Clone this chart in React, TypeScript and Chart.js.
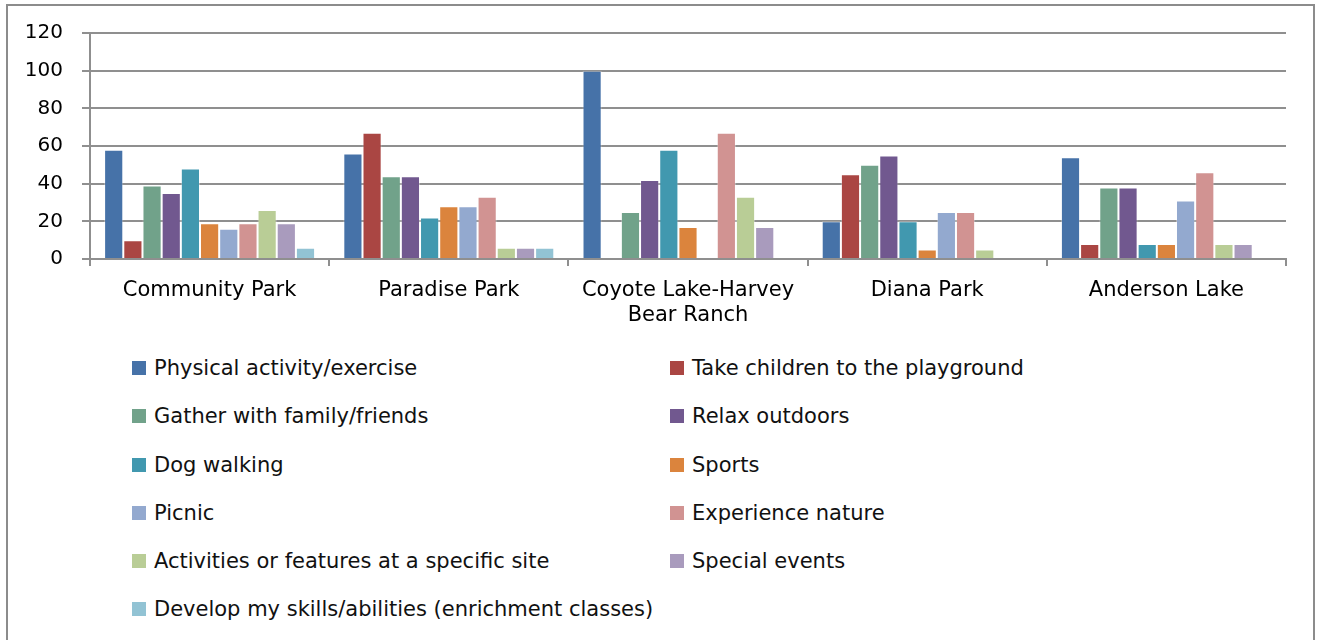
import React, { useEffect, useRef } from 'react';
import { Chart, registerables } from 'chart.js';

Chart.register(...registerables);

const categories: (string | string[])[] = [
  'Community Park',
  'Paradise Park',
  ['Coyote Lake-Harvey', 'Bear Ranch'],
  'Diana Park',
  'Anderson Lake',
];

const seriesNames = [
  'Physical activity/exercise',
  'Take children to the playground',
  'Gather with family/friends',
  'Relax outdoors',
  'Dog walking',
  'Sports',
  'Picnic',
  'Experience nature',
  'Activities or features at a specific site',
  'Special events',
  'Develop my skills/abilities (enrichment classes)',
];

const seriesColors = [
  '#4672A8',
  '#AA4643',
  '#71A28A',
  '#71588F',
  '#4198AF',
  '#DB843D',
  '#93A9CF',
  '#D19392',
  '#B9CD96',
  '#A99BBD',
  '#92C3D4',
];

const physicalActivity = [58, 56, 100, 20, 54];
const takeChildren = [10, 67, 0, 45, 8];
const gatherFamily = [39, 44, 25, 50, 38];
const relaxOutdoors = [35, 44, 42, 55, 38];
const dogWalking = [48, 22, 58, 20, 8];
const sports = [19, 28, 17, 5, 8];
const picnic = [16, 28, 0, 25, 31];
const experienceNature = [19, 33, 67, 25, 46];
const siteActivities = [26, 6, 33, 5, 8];
const specialEvents = [19, 6, 17, 0, 8];
const developSkills = [6, 6, 0, 0, 0];

const seriesValues = [
  physicalActivity,
  takeChildren,
  gatherFamily,
  relaxOutdoors,
  dogWalking,
  sports,
  picnic,
  experienceNature,
  siteActivities,
  specialEvents,
  developSkills,
];

const yMin = 0;
const yMax = 120;
const yStep = 20;

const FONT = '"DejaVu Sans", Verdana, sans-serif';
const GRID = '#8f8f8f';

function Legend() {
  return (
    <div
      style={{
        position: 'absolute',
        left: 132,
        top: 344,
        width: 1100,
        display: 'grid',
        gridTemplateColumns: '538px 1fr',
        gridAutoRows: '48.25px',
        fontFamily: FONT,
        fontSize: 21,
        color: '#111',
      }}
    >
      {seriesNames.map((name, i) => (
        <div key={name} style={{ display: 'flex', alignItems: 'center', whiteSpace: 'nowrap' }}>
          <span
            style={{
              display: 'inline-block',
              width: 14,
              height: 14,
              background: seriesColors[i],
              marginRight: 8,
              flex: 'none',
            }}
          />
          <span>{name}</span>
        </div>
      ))}
    </div>
  );
}

export default function App() {
  const canvasRef = useRef<HTMLCanvasElement | null>(null);

  useEffect(() => {
    if (!canvasRef.current) return;
    const chart = new Chart(canvasRef.current, {
      type: 'bar',
      data: {
        labels: categories as any,
        datasets: seriesNames.map((name, i) => ({
          label: name,
          data: seriesValues[i],
          backgroundColor: seriesColors[i],
          borderColor: 'rgba(255,255,255,0.35)',
          borderWidth: 1,
          categoryPercentage: 0.882,
          barPercentage: 1,
        })),
      },
      options: {
        animation: false,
        responsive: false,
        maintainAspectRatio: false,
        layout: { padding: { left: 0, right: 36, top: 33, bottom: 0 } },
        plugins: {
          legend: { display: false },
          tooltip: { enabled: false },
        },
        scales: {
          x: {
            grid: {
              offset: true,
              drawOnChartArea: false,
              drawTicks: true,
              tickLength: 7,
              color: GRID,
              lineWidth: 2,
            },
            border: { display: true, color: GRID, width: 2 },
            ticks: {
              color: '#000',
              font: { family: FONT, size: 21 },
              padding: 12,
              maxRotation: 0,
              autoSkip: false,
            },
            afterFit: (scale: any) => {
              scale.height = 81;
            },
          },
          y: {
            min: yMin,
            max: yMax,
            ticks: {
              stepSize: yStep,
              color: '#000',
              font: { family: FONT, size: 20 },
              padding: 19,
            },
            grid: {
              color: GRID,
              lineWidth: 2,
              drawTicks: true,
              tickLength: 8,
            },
            border: { display: true, color: GRID, width: 2 },
            afterFit: (scale: any) => {
              scale.width = 90;
            },
          },
        },
      },
    });
    return () => chart.destroy();
  }, []);

  return (
    <div>
      <div
        style={{
          position: 'absolute',
          left: 6,
          top: 4,
          width: 1309,
          height: 700,
          border: '2px solid #8c8c8c',
          boxSizing: 'border-box',
          background: '#fff',
        }}
      />
      <canvas
        ref={canvasRef}
        width={1322}
        height={340}
        style={{ position: 'absolute', left: 0, top: 0, width: 1322, height: 340 }}
      />
      <Legend />
    </div>
  );
}
